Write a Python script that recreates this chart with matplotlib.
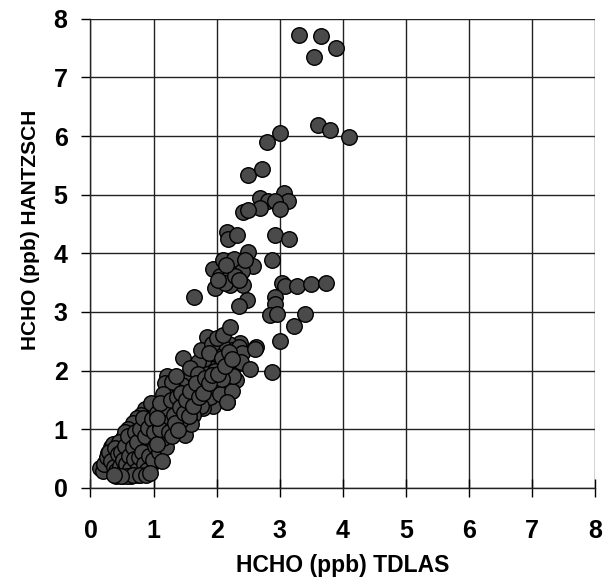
import matplotlib
matplotlib.use('Agg')
import matplotlib.pyplot as plt

tdlas_hi = [3.30, 3.65, 3.55, 3.90, 3.60, 3.80, 4.10, 3.00, 2.80, 2.50, 2.72,
            3.06, 3.13, 2.69, 2.82, 2.92, 2.69, 3.00, 2.42, 2.50,
            2.16, 2.18, 2.33, 2.92, 3.15, 2.49, 2.88,
            1.95, 2.10, 2.27, 2.57, 2.40, 2.05, 2.21, 2.42, 2.21, 1.97, 2.13,
            2.29, 2.45, 2.15, 2.35, 2.02, 1.64,
            3.03, 3.08, 3.28, 3.50, 3.73, 2.92, 2.92, 2.84, 2.95, 2.48, 2.36,
            3.40, 3.22, 2.21, 3.00, 2.63, 2.61, 2.53, 2.87]
hantz_hi = [7.72, 7.70, 7.35, 7.50, 6.18, 6.10, 5.98, 6.05, 5.90, 5.34, 5.44,
            5.03, 4.90, 4.94, 4.90, 4.89, 4.77, 4.76, 4.70, 4.73,
            4.37, 4.24, 4.31, 4.32, 4.24, 4.02, 3.88,
            3.73, 3.89, 3.91, 3.79, 3.69, 3.61, 3.62, 3.46, 3.46, 3.41, 3.49,
            3.62, 3.89, 3.80, 3.55, 3.55, 3.25,
            3.50, 3.45, 3.45, 3.48, 3.50, 3.26, 3.14, 2.94, 2.97, 3.21, 3.11,
            2.96, 2.76, 2.75, 2.50, 2.41, 2.37, 2.03, 1.97]

tdlas_mid = [1.85, 1.47, 1.21, 1.18, 2.37, 2.32, 2.31, 2.17, 1.95, 1.79,
             2.20, 2.25, 2.10, 2.30, 2.35, 2.15, 2.05, 2.28, 2.22, 2.12,
             2.00, 1.90, 1.95, 1.80, 1.70, 1.85, 2.05, 1.98, 2.15, 1.75,
             1.65, 1.55, 1.60, 1.70, 1.85, 1.90, 2.05, 2.25, 1.50, 1.45,
             1.35, 1.40, 1.55, 1.65, 1.75, 1.30, 1.25, 1.35, 1.50, 1.62,
             1.45, 1.30, 1.40, 1.55, 1.25, 1.15, 1.20, 1.10, 1.35, 1.58,
             1.75, 1.92, 2.00, 1.88, 2.10, 2.40, 2.38, 2.26, 2.18,
             1.50, 1.13, 1.60, 2.16, 1.43, 1.25, 1.15, 1.05, 1.20, 1.10,
             1.30, 1.05, 1.70, 1.98, 2.08,
             1.24, 1.27, 1.29, 1.32, 1.34, 1.37, 1.39, 1.42, 1.44, 1.48,
             1.52, 1.56, 1.58, 1.63, 1.67, 1.72, 1.78, 1.82, 1.88, 1.93,
             2.02, 2.08, 2.14, 2.20, 2.24]
hantz_mid = [2.58, 2.21, 1.90, 1.79, 2.47, 2.18, 1.84, 1.46, 1.39, 1.37,
             2.45, 2.35, 2.40, 2.30, 2.40, 2.25, 2.20, 2.10, 2.00, 1.95,
             2.10, 2.05, 2.30, 2.20, 2.15, 1.95, 1.80, 1.75, 1.70, 1.85,
             1.90, 1.85, 1.70, 1.65, 1.70, 1.55, 1.60, 1.65, 1.60, 1.75,
             1.65, 1.45, 1.45, 1.50, 1.40, 1.80, 1.55, 1.35, 1.30, 1.25,
             1.20, 1.20, 1.05, 1.10, 1.40, 1.60, 1.30, 1.45, 1.90, 2.05,
             2.35, 2.45, 2.55, 2.30, 2.60, 2.30, 2.15, 1.90, 2.15,
             0.90, 0.45, 1.09, 1.47, 1.16, 0.90, 0.85, 0.75, 1.10, 1.00,
             1.00, 1.20, 1.95, 2.00, 1.85,
             0.95, 1.50, 0.88, 1.25, 1.10, 1.55, 0.98, 1.38, 1.62, 1.28,
             1.50, 1.22, 1.65, 1.40, 1.78, 1.55, 1.62, 1.88, 1.78, 1.92,
             1.95, 2.22, 2.08, 2.32, 2.20]

tdlas_lo = [0.15, 0.25, 0.30, 0.35, 0.40, 0.45, 0.50, 0.55, 0.60, 0.65,
            0.70, 0.75, 0.80, 0.85, 0.28, 0.32, 0.38, 0.42, 0.35, 0.45,
            0.50, 0.55, 0.60, 0.65, 0.70, 0.75, 0.80, 0.85, 0.90, 0.95,
            0.48, 0.52, 0.58, 0.62, 0.66, 0.70, 0.72, 0.76, 0.78, 0.82,
            0.84, 0.88, 0.90, 0.92, 0.95, 0.98, 1.00, 1.02, 1.05, 0.86,
            0.80, 0.74, 0.68, 0.64, 0.56, 0.44, 0.40, 0.62, 0.72, 0.78,
            0.88, 0.94, 1.00, 1.08, 1.12, 1.05, 0.96, 1.08, 1.15, 1.18,
            0.60, 0.55, 0.50, 0.36, 0.30, 0.46, 0.66, 0.82, 0.95, 1.00,
            0.90,
            0.20, 0.22, 0.26, 0.30, 0.33, 0.37, 0.39, 0.41, 0.43, 0.47,
            0.49, 0.51, 0.53, 0.54, 0.57, 0.59, 0.61, 0.63, 0.67, 0.69,
            0.71, 0.73, 0.74, 0.77, 0.79, 0.81, 0.83, 0.85, 0.87, 0.89,
            0.91, 0.93, 0.97, 0.99, 1.01, 1.03, 1.06, 1.09, 1.11, 1.14,
            1.17, 1.19, 1.22, 0.58, 0.68, 0.78, 0.88, 0.95, 0.48, 0.38]
hantz_lo = [0.34, 0.45, 0.30, 0.25, 0.20, 0.22, 0.20, 0.25, 0.22, 0.20,
            0.25, 0.22, 0.28, 0.25, 0.60, 0.70, 0.55, 0.65, 0.40, 0.45,
            0.35, 0.50, 0.40, 0.55, 0.45, 0.60, 0.45, 0.55, 0.40, 0.35,
            0.75, 0.85, 0.70, 0.80, 0.95, 0.85, 1.05, 0.90, 1.15, 1.00,
            0.80, 1.10, 0.90, 1.25, 1.05, 0.85, 1.30, 1.10, 0.95, 1.35,
            1.25, 1.20, 1.10, 0.65, 0.60, 0.30, 0.50, 0.30, 0.35, 0.70,
            0.65, 0.75, 0.65, 1.15, 1.25, 1.40, 1.45, 0.85, 1.05, 0.95,
            1.00, 0.95, 0.55, 0.75, 0.50, 0.78, 0.40, 0.35, 0.65, 0.55,
            0.45,
            0.28, 0.40, 0.52, 0.62, 0.45, 0.35, 0.68, 0.28, 0.58, 0.38,
            0.62, 0.48, 0.28, 0.72, 0.40, 0.88, 0.55, 0.32, 0.70, 0.50,
            0.95, 0.30, 0.78, 0.52, 1.00, 0.62, 1.20, 0.40, 0.88, 0.30,
            1.02, 0.55, 1.18, 0.48, 0.95, 0.72, 1.28, 0.62, 1.05, 0.80,
            1.35, 0.70, 1.15, 0.20, 0.22, 0.22, 0.22, 0.25, 0.20, 0.22]

x = tdlas_lo + tdlas_mid + tdlas_hi
y = hantz_lo + hantz_mid + hantz_hi

plt.rcParams['font.family'] = ['Liberation Sans', 'DejaVu Sans']
plt.rcParams['font.weight'] = 'bold'

fig = plt.figure(figsize=(6.03, 5.85), dpi=100)
ax = fig.add_axes([0.150, 0.166, 0.837, 0.802])

ax.scatter(x, y, s=125, c='#4a4a4a', edgecolors='black', linewidths=1.0,
           zorder=3, clip_on=False)

ax.set_xlim(0, 8)
ax.set_ylim(0, 8)
ax.set_xticks(range(9))
ax.set_yticks(range(9))
ax.grid(True, color='#222222', linewidth=1.0)
ax.set_axisbelow(True)

for side in ['top', 'right']:
    ax.spines[side].set_visible(False)
for side in ['left', 'bottom']:
    ax.spines[side].set_color('#222222')
    ax.spines[side].set_linewidth(1.0)

ax.tick_params(axis='x', direction='inout', length=13, width=1,
               labelsize=18, pad=16)
ax.tick_params(axis='y', direction='out', length=6.5, width=1,
               labelsize=18, pad=10)

ax.set_xlabel('HCHO (ppb) TDLAS', fontsize=16.5, fontweight='bold', labelpad=8)
ax.set_ylabel('HCHO (ppb) HANTZSCH', fontsize=15, fontweight='bold')
ax.yaxis.set_label_coords(-0.100, 0.55)

fig.savefig('out.png', dpi=100)
